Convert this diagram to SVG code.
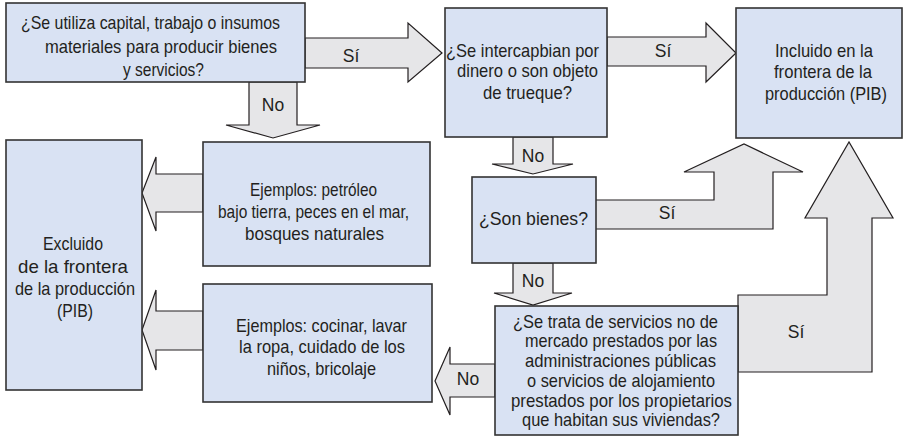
<svg xmlns="http://www.w3.org/2000/svg" width="905" height="436" viewBox="0 0 905 436">
<style>
.box{fill:#d9e2f3;stroke:#333333;stroke-width:1.6}
.arr{fill:#e6e6e8;stroke:#231f20;stroke-width:1.2;stroke-linejoin:miter}
text{font-family:"Liberation Sans",Arial,sans-serif;fill:#231f20}
.t{font-size:18.5px}
.l{font-size:17.5px;text-anchor:middle}
</style>
<rect width="905" height="436" fill="#ffffff"/>
<g id="connectors">
<path class="arr" d="M305,38 L408,38 L408,23 L442,53 L408,82 L408,68 L305,68 Z"/>
<path class="arr" d="M607,37 L706,37 L706,23 L736,53 L706,82 L706,66 L607,66 Z"/>
<path class="arr" d="M249,82 L249,125 L226,125 L273,138 L320,125 L297,125 L297,82 Z"/>
<path class="arr" d="M513,137 L513,164 L492,164 L533,174 L573,164 L553,164 L553,137 Z"/>
<path class="arr" d="M595,200 L714,200 L714,172 L684,172 L744,144 L803,172 L773,172 L773,229 L595,229 Z"/>
<path class="arr" d="M513,263 L513,293 L494,293 L533,305 L572,293 L553,293 L553,263 Z"/>
<path class="arr" d="M738,295 L827,295 L827,218 L805,218 L849,142 L893,218 L872,218 L872,372 L738,372 Z"/>
<path class="arr" d="M203,174 L156,174 L156,157 L142,193 L156,231 L156,212 L203,212 Z"/>
<path class="arr" d="M203,311 L156,311 L156,290 L142,330 L156,370 L156,350 L203,350 Z"/>
<path class="arr" d="M495,364 L450,364 L450,347 L435,381 L450,415 L450,397 L495,397 Z"/>
<text class="l" x="351" y="62">Sí</text>
<text class="l" x="663" y="57">Sí</text>
<text class="l" x="273" y="111">No</text>
<text class="l" x="533" y="162">No</text>
<text class="l" x="667" y="219">Sí</text>
<text class="l" x="533" y="287">No</text>
<text class="l" x="796" y="338">Sí</text>
<text class="l" x="468" y="385">No</text>
</g>
<g id="q1">
<rect class="box" x="6" y="3" width="299" height="79"/>
<text class="t" x="21" y="29" textLength="259" lengthAdjust="spacingAndGlyphs">¿Se utiliza capital, trabajo o insumos</text>
<text class="t" x="45" y="53" textLength="232" lengthAdjust="spacingAndGlyphs">materiales para producir bienes</text>
<text class="t" x="123" y="76" textLength="81" lengthAdjust="spacingAndGlyphs">y servicios?</text>
</g>
<g id="q2">
<rect class="box" x="445" y="8" width="162" height="129"/>
<text class="t" x="446" y="57" textLength="153" lengthAdjust="spacingAndGlyphs">¿Se intercapbian por</text>
<text class="t" x="457" y="77" textLength="141" lengthAdjust="spacingAndGlyphs">dinero o son objeto</text>
<text class="t" x="483" y="99" textLength="89" lengthAdjust="spacingAndGlyphs">de trueque?</text>
</g>
<g id="included">
<rect class="box" x="736" y="8" width="166" height="130"/>
<text class="t" x="775" y="57" textLength="98" lengthAdjust="spacingAndGlyphs">Incluido en la</text>
<text class="t" x="774" y="78" textLength="98" lengthAdjust="spacingAndGlyphs">frontera de la</text>
<text class="t" x="765" y="100" textLength="122" lengthAdjust="spacingAndGlyphs">producción (PIB)</text>
</g>
<g id="ex1">
<rect class="box" x="203" y="142" width="227" height="124"/>
<text class="t" x="250" y="196" textLength="127" lengthAdjust="spacingAndGlyphs">Ejemplos: petróleo</text>
<text class="t" x="218" y="218" textLength="191" lengthAdjust="spacingAndGlyphs">bajo tierra, peces en el mar,</text>
<text class="t" x="245" y="240" textLength="139" lengthAdjust="spacingAndGlyphs">bosques naturales</text>
</g>
<g id="excluded">
<rect class="box" x="6" y="140" width="136" height="250"/>
<text class="t" x="43" y="250" textLength="60" lengthAdjust="spacingAndGlyphs">Excluido</text>
<text class="t" x="18" y="273" textLength="110" lengthAdjust="spacingAndGlyphs">de la frontera</text>
<text class="t" x="15" y="295" textLength="120" lengthAdjust="spacingAndGlyphs">de la producción</text>
<text class="t" x="57" y="317" textLength="36" lengthAdjust="spacingAndGlyphs">(PIB)</text>
</g>
<g id="ex2">
<rect class="box" x="203" y="284" width="229" height="118"/>
<text class="t" x="236" y="332" textLength="171" lengthAdjust="spacingAndGlyphs">Ejemplos: cocinar, lavar</text>
<text class="t" x="239" y="353" textLength="166" lengthAdjust="spacingAndGlyphs">la ropa, cuidado de los</text>
<text class="t" x="267" y="375" textLength="109" lengthAdjust="spacingAndGlyphs">niños, bricolaje</text>
</g>
<g id="q3">
<rect class="box" x="472" y="177" width="124" height="86"/>
<text class="t" x="479" y="225" textLength="109" lengthAdjust="spacingAndGlyphs">¿Son bienes?</text>
</g>
<g id="q4">
<rect class="box" x="495" y="306" width="243" height="129"/>
<text class="t" x="513" y="328" textLength="205" lengthAdjust="spacingAndGlyphs">¿Se trata de servicios no de</text>
<text class="t" x="525" y="347" textLength="192" lengthAdjust="spacingAndGlyphs">mercado prestados por las</text>
<text class="t" x="525" y="367" textLength="191" lengthAdjust="spacingAndGlyphs">administraciones públicas</text>
<text class="t" x="527" y="387" textLength="188" lengthAdjust="spacingAndGlyphs">o servicios de alojamiento</text>
<text class="t" x="511" y="407" textLength="221" lengthAdjust="spacingAndGlyphs">prestados por los propietarios</text>
<text class="t" x="522" y="426" textLength="198" lengthAdjust="spacingAndGlyphs">que habitan sus viviendas?</text>
</g>
</svg>
